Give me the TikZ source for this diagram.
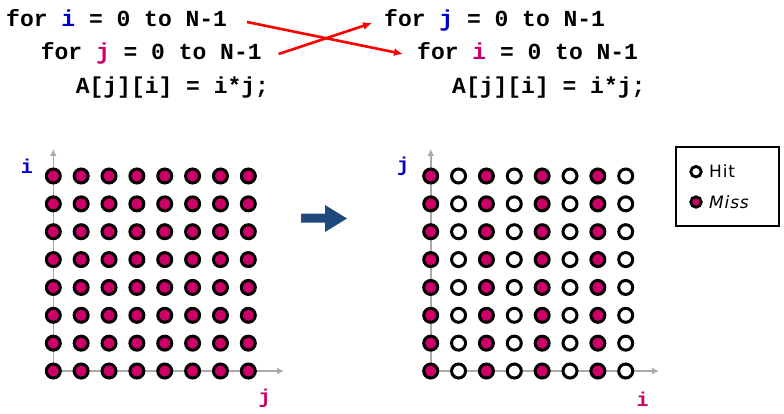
\documentclass[tikz,border=0pt]{standalone}
\usepackage{fontspec}
\setmainfont{DejaVu Sans}
\newfontfamily\codefont{Liberation Mono}[BoldFont={* Bold}]
\newfontfamily\legfont{DejaVu Sans}[LetterSpace=5]
\usetikzlibrary{arrows.meta}
\definecolor{miss}{HTML}{CC0066}
\definecolor{idx}{HTML}{0000CC}
\definecolor{axisgray}{HTML}{AAAAAA}
\definecolor{bigarrow}{HTML}{1F497D}
\tikzset{
  code/.style={anchor=base west, inner sep=0pt, font=\codefont\bfseries\fontsize{23}{23}\selectfont},
  axlabel/.style={anchor=base, inner sep=0pt, font=\codefont\bfseries\fontsize{20}{20}\selectfont},
  dot/.style={circle, draw=black, line width=3pt, inner sep=0pt, minimum size=14pt},
  missdot/.style={dot, fill=miss},
  hitdot/.style={dot, fill=white},
  legdot/.style={circle, draw=black, line width=2.8pt, inner sep=0pt, minimum size=10.5pt},
  axis/.style={axisgray, line width=1.6pt, -{Latex[length=7pt,width=7pt]}},
  swap/.style={red, line width=2.6pt, -{Latex[length=9pt,width=8pt]}},
}
\begin{document}
\begin{tikzpicture}[x=1pt,y=-1pt]
\useasboundingbox (0,0) rectangle (784,414);
% code
\node[code] (L1) at (6,27) {for \textcolor{idx}{i} = 0 to N-1};
\node[code] (L2) at (40.6,60) {for \textcolor{miss}{j} = 0 to N-1};
\node[code] (L3) at (75.6,94) {A[j][i] = i*j;};
\node[code] (R1) at (384,27) {for \textcolor{idx}{j} = 0 to N-1};
\node[code] (R2) at (417,60) {for \textcolor{miss}{i} = 0 to N-1};
\node[code] (R3) at (452,94) {A[j][i] = i*j;};
\draw[swap] ([shift={(241,-5)}]L1.base west) -- ([shift={(-14,-6)}]R2.base west);
\draw[swap] ([shift={(238,-6)}]L2.base west) -- ([shift={(-12,-4)}]R1.base west);
% axes
\coordinate (LO) at (53.3,371);
\coordinate (RO) at (430.7,371);
\draw[axis] (LO) -- (53.3,149) coordinate (LT);
\draw[axis] (LO) -- (284,371) coordinate (LR);
\draw[axis] (RO) -- (430.7,149) coordinate (RT);
\draw[axis] (RO) -- (659,371) coordinate (RR);
\node[axlabel, text=idx] (li) at (27,174) {i};
\node[axlabel, text=miss] (lj) at (264.5,403) {j};
\node[axlabel, text=idx] (rj) at (403,172) {j};
\node[axlabel, text=miss] (ri) at (642.5,406) {i};
% grids
\foreach \r in {0,...,7}{
  \foreach \c in {0,...,7}{
    \node[missdot] (a-\r-\c) at ({53.3+27.86*\c},{176+27.86*\r}) {};
    \pgfmathtruncatemacro{\odd}{mod(\c,2)}
    \ifnum\odd=0
      \node[missdot] (b-\r-\c) at ({430.7+27.86*\c},{176+27.86*\r}) {};
    \else
      \node[hitdot] (b-\r-\c) at ({430.7+27.86*\c},{176+27.86*\r}) {};
    \fi
  }
}
% big arrow
\fill[bigarrow] (301,213.5) -- (325,213.5) -- (325,205) -- (347,218.5) -- (325,232) -- (325,222.5) -- (301,222.5) -- cycle;
% legend
\node[draw=black, line width=2pt, minimum width=103pt, minimum height=79pt, inner sep=0pt] (leg) at (727.5,186.5) {};
\node[legdot, fill=white] (hd) at (696,171.7) {};
\node[legdot, fill=miss] (md) at (696,202) {};
\node[anchor=west, inner sep=0pt, font=\legfont\fontsize{17}{17}\selectfont] (ht) at (709,171.5) {Hit};
\node[anchor=west, inner sep=0pt, font=\legfont\itshape\fontsize{17}{17}\selectfont] (mt) at (709,202.5) {Miss};
\end{tikzpicture}
\end{document}
